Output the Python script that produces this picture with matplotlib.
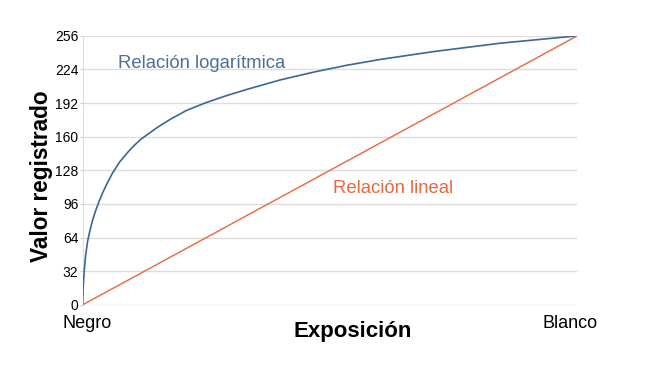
import matplotlib
matplotlib.use('Agg')
import matplotlib.pyplot as plt
import matplotlib.transforms as mtransforms

plt.rcParams['font.family'] = ['Liberation Sans', 'DejaVu Sans']

# Curva logaritmica, exposicion normalizada 0..1
log_x = [0, 0.0013, 0.0033, 0.006, 0.010, 0.015, 0.020, 0.026, 0.033, 0.040,
         0.048, 0.060, 0.075, 0.092, 0.105, 0.119, 0.15, 0.177, 0.21, 0.247,
         0.29, 0.332, 0.399, 0.467, 0.534, 0.601, 0.709, 0.844, 1.0]
log_y = [0, 17, 32, 46, 60, 71, 80, 89, 98, 106,
         114, 125, 136, 145.5, 152, 158, 168.5, 176.5, 185, 192,
         199, 205, 214, 221.5, 228, 233.5, 241, 249, 256]

# Relacion lineal
lin_x = [0, 1]
lin_y = [0, 256]

y_ticks = [0, 32, 64, 96, 128, 160, 192, 224, 256]
x_ticks = [0, 1]
x_labels = ['Negro', 'Blanco']

blue = '#3b6795'
orange = '#e8673c'

fig = plt.figure(figsize=(6.5, 3.66), dpi=100)
ax = fig.add_axes([0.127, 0.167, 0.761, 0.735])

ax.plot(log_x, log_y, color=blue, lw=1.2, zorder=3)
ax.plot(lin_x, lin_y, color=orange, lw=1.0, zorder=3)

ax.set_xlim(0, 1)
ax.set_ylim(0, 256)
ax.set_yticks(y_ticks)
ax.set_xticks(x_ticks)
ax.set_xticklabels(x_labels, fontsize=13)
ax.tick_params(axis='y', labelsize=10, length=2, color='#cccccc', pad=1)
ax.tick_params(axis='x', length=0, pad=7)

# desplazar un poco Negro / Blanco hacia dentro
shifts = [5, -7]
for lab, dx in zip(ax.get_xticklabels(), shifts):
    off = mtransforms.ScaledTranslation(dx / 100, 0, fig.dpi_scale_trans)
    lab.set_transform(lab.get_transform() + off)

ax.grid(axis='y', color='#dddddd', lw=1)
ax.set_axisbelow(True)
for s in ['top', 'right', 'bottom']:
    ax.spines[s].set_visible(False)
ax.spines['left'].set_color('#dddddd')

ax.set_xlabel('Exposición', fontsize=16, fontweight='bold')
ax.xaxis.set_label_coords(0.546, -0.06)
ax.set_ylabel('Valor registrado', fontsize=16.3, fontweight='bold')
ax.yaxis.set_label_coords(-0.06, 0.48)

ax.text(0.071, 230, 'Relación logarítmica', color='#4a6f98', fontsize=13.3,
        va='center', ha='left')
ax.text(0.506, 111, 'Relación lineal', color=orange, fontsize=13.3,
        va='center', ha='left')

plt.savefig('out.png', dpi=100)
